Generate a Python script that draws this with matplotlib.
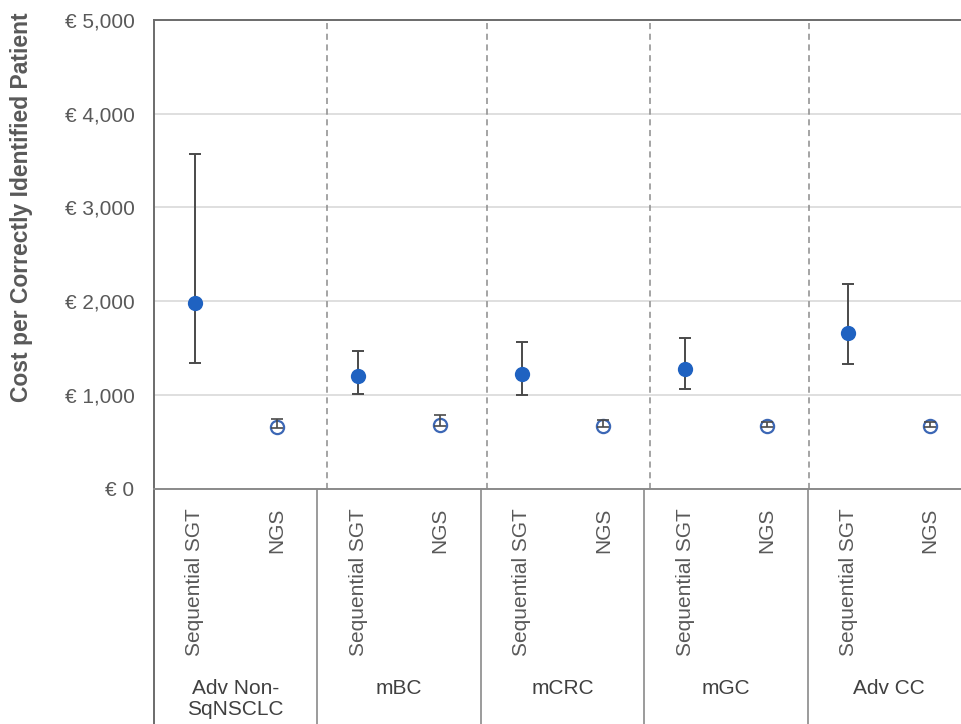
import matplotlib
matplotlib.use("Agg")
import matplotlib.pyplot as plt
import matplotlib.transforms as mtransforms
import numpy as np

plt.rcParams['font.family'] = ['Liberation Sans', 'DejaVu Sans']

# ---- data ----
groups = ["Adv Non-\nSqNSCLC", "mBC", "mCRC", "mGC", "Adv CC"]
methods = ["Sequential SGT", "NGS"]
sgt_mean = [1985, 1202, 1223, 1273, 1658]
sgt_low = [1337, 1010, 999, 1063, 1330]
sgt_high = [3574, 1466, 1562, 1605, 2185]
ngs_mean = [652, 678, 668, 668, 668]
ngs_low = [645, 670, 660, 660, 660]
ngs_high = [742, 785, 730, 714, 714]
y_ticks = [0, 1000, 2000, 3000, 4000, 5000]
y_ticklabels = ["€ 0", "€ 1,000", "€ 2,000", "€ 3,000", "€ 4,000", "€ 5,000"]
y_label = "Cost per Correctly Identified Patient"

W, H = 961, 724
fig = plt.figure(figsize=(W / 100, H / 100), dpi=100)
left, right, top, bottom = 154, 971, 20, 488.5
ax = fig.add_axes([left / W, 1 - bottom / H, (right - left) / W, (bottom - top) / H])

grey = '#595959'
frame = '#6b6b6b'
blue = '#1F62C1'
ngs_edge = '#3C67B5'
err_col = '#4a4a4a'

n = len(groups)
x_sgt = np.arange(n) * 2 + 0.5
x_ngs = np.arange(n) * 2 + 1.5

sgt_mean_a = np.array(sgt_mean)
ngs_mean_a = np.array(ngs_mean)
yerr_sgt = [sgt_mean_a - np.array(sgt_low), np.array(sgt_high) - sgt_mean_a]
yerr_ngs = [ngs_mean_a - np.array(ngs_low), np.array(ngs_high) - ngs_mean_a]

ax.errorbar(x_sgt, sgt_mean, yerr=yerr_sgt, fmt='none', ecolor=err_col,
            elinewidth=1.4, capsize=4.5, capthick=1.4, zorder=3)
ax.plot(x_sgt, sgt_mean, 'o', color=blue, markersize=11, zorder=4, markeredgewidth=0)
ax.plot(x_ngs, ngs_mean, 'o', markerfacecolor='white', markeredgecolor=ngs_edge,
        markersize=9.5, markeredgewidth=1.6, zorder=4)
ax.errorbar(x_ngs, ngs_mean, yerr=yerr_ngs, fmt='none', ecolor=err_col,
            elinewidth=1.2, capsize=4, capthick=1.2, zorder=5)

ax.set_xlim(0, 2 * n)
ax.set_ylim(0, 5000)
ax.set_yticks(y_ticks)
ax.set_yticklabels(y_ticklabels, fontsize=15, color=grey)
ax.tick_params(axis='y', length=0, pad=14)
ax.yaxis.grid(True, color='#d9d9d9', linewidth=1.2)
ax.set_axisbelow(True)

ax.set_xticks(list(x_sgt) + list(x_ngs))
ax.set_xticklabels([methods[0]] * n + [methods[1]] * n, rotation=90,
                   fontsize=15, color=grey, va='top', ha='center')
ax.tick_params(axis='x', length=0, pad=14)

for s in ['top', 'left', 'bottom']:
    ax.spines[s].set_color(frame)
    ax.spines[s].set_linewidth(1.4)
ax.spines['bottom'].set_color('#8a8a8a')
ax.spines['right'].set_visible(False)

# dashed category separators inside the plot
for xs in [2.116, 4.073, 6.067, 8.012]:
    ax.axvline(xs, color='#8c8c8c', linestyle=(0, (4, 3)), linewidth=1.1, zorder=1)

# separators in the category axis area
trans = mtransforms.blended_transform_factory(ax.transData, ax.transAxes)
below = -(H - bottom) / (bottom - top)
for xs in [0, 2, 4, 6, 8]:
    lw = 1.4 if xs == 0 else 1.2
    col = frame if xs == 0 else '#8a8a8a'
    ax.plot([xs, xs], [0, below], transform=trans, color=col, linewidth=lw,
            clip_on=False, solid_capstyle='butt')

# group labels
for i, g in enumerate(groups):
    fig.text((left + (2 * i + 1) * (right - left) / (2 * n)) / W, 1 - 679 / H, g,
             ha='center', va='top', fontsize=15, color='#404040', linespacing=1.12)

fig.text(22 / W, 1 - 207 / H, y_label, rotation=90, ha='center', va='center',
         fontsize=16.5, fontweight='bold', color=grey)

fig.savefig('out.png', dpi=100)
